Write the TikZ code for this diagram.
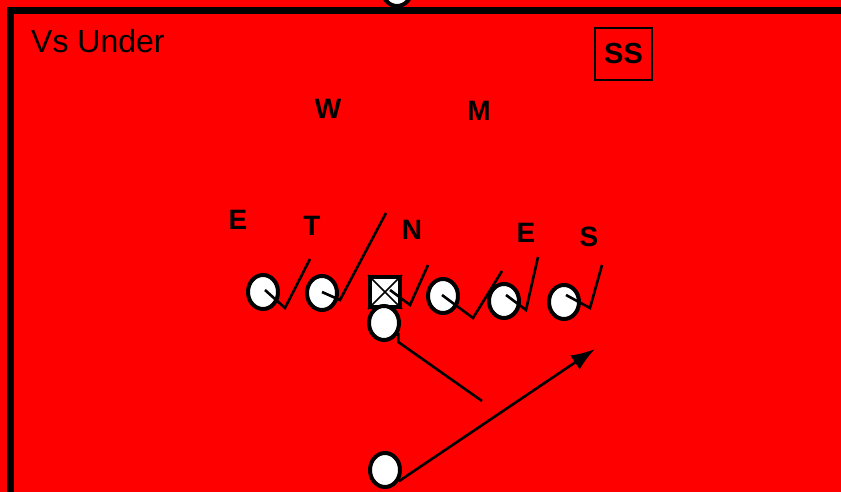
\documentclass[tikz,border=0pt]{standalone}
\usepackage{fontspec}
\setmainfont{Liberation Sans}
\usetikzlibrary{arrows.meta,shapes.geometric}
\tikzset{
  jat/.style={ellipse,draw,fill=white,line width=4pt,minimum width=30pt,minimum height=34pt,inner sep=0pt},
  kozep/.style={rectangle,draw,fill=white,line width=4pt,minimum size=30pt,inner sep=0pt},
  blk/.style={line width=2.6pt},
  nyil/.style={line width=2.6pt,-{Latex[length=24pt,width=17pt]}},
  bet/.style={font=\fontsize{28}{30}\selectfont\bfseries,inner sep=0pt},
}

\begin{document}
\begin{tikzpicture}[x=1pt,y=-1pt]
  \useasboundingbox (0,0) rectangle (841,492);
  \clip (0,0) rectangle (841,492);
  \fill[red] (0,0) rectangle (841,492);
  \draw[line width=7pt] (10,520) -- (10,11) -- (870,11);
  \node[jat] (felso) at (397,-11) {};
  % felirat
  \node[anchor=west,inner sep=0pt,font=\fontsize{32}{34}\selectfont] (cim) at (31,41) {Vs Under};
  \node[draw,line width=2pt,minimum width=57pt,minimum height=52pt,inner sep=0pt,
    font=\fontsize{29}{31}\selectfont\bfseries] (ss) at (623.5,54) {SS};
  % vedok
  \foreach \n/\x/\y/\t in {w/328/109/W, m/479/111/M, e1/238/220/E, t/312/226/T,
                           n/412/230/N, e2/526/233/E, s/589/237/S}
    \node[bet] (\n) at (\x,\y) {\t};
  % tamadok
  \foreach \n/\x/\y in {o1/263/292, o2/322/293, o4/443/296, o5/504/301, o6/564/302}
    \node[jat] (\n) at (\x,\y) {};
  \node[kozep] (c) at (385,292) {};
  \draw[line width=1.5pt] (c.north west) -- (c.south east) (c.north east) -- (c.south west);
  \node[jat] (qb) at (384,323) {};
  \node[jat] (rb) at (385,470) {};
  % blokkok
  \foreach \p/\s/\t/\e in {o1/{2,-2}/{285,308}/{310,259}, o2/{0,-1}/{340,300}/{386,213},
      c/{5,-2}/{410,305}/{428,265}, o4/{-1,-1}/{473,318}/{502,271},
      o5/{2,-6}/{526,310}/{538,257}, o6/{2,-7}/{590,308}/{602,265}}
    \draw[blk] ([shift={(\s)}]\p.center) -- (\t) -- (\e);
  \coordinate (qbveg) at (482,401);
  \coordinate (rbveg) at (595,349);
  \draw[blk] (qb.-35) -- ++(0,9) -- (qbveg);
  \draw[nyil] (rb.-40) -- (rbveg);
\end{tikzpicture}
\end{document}
